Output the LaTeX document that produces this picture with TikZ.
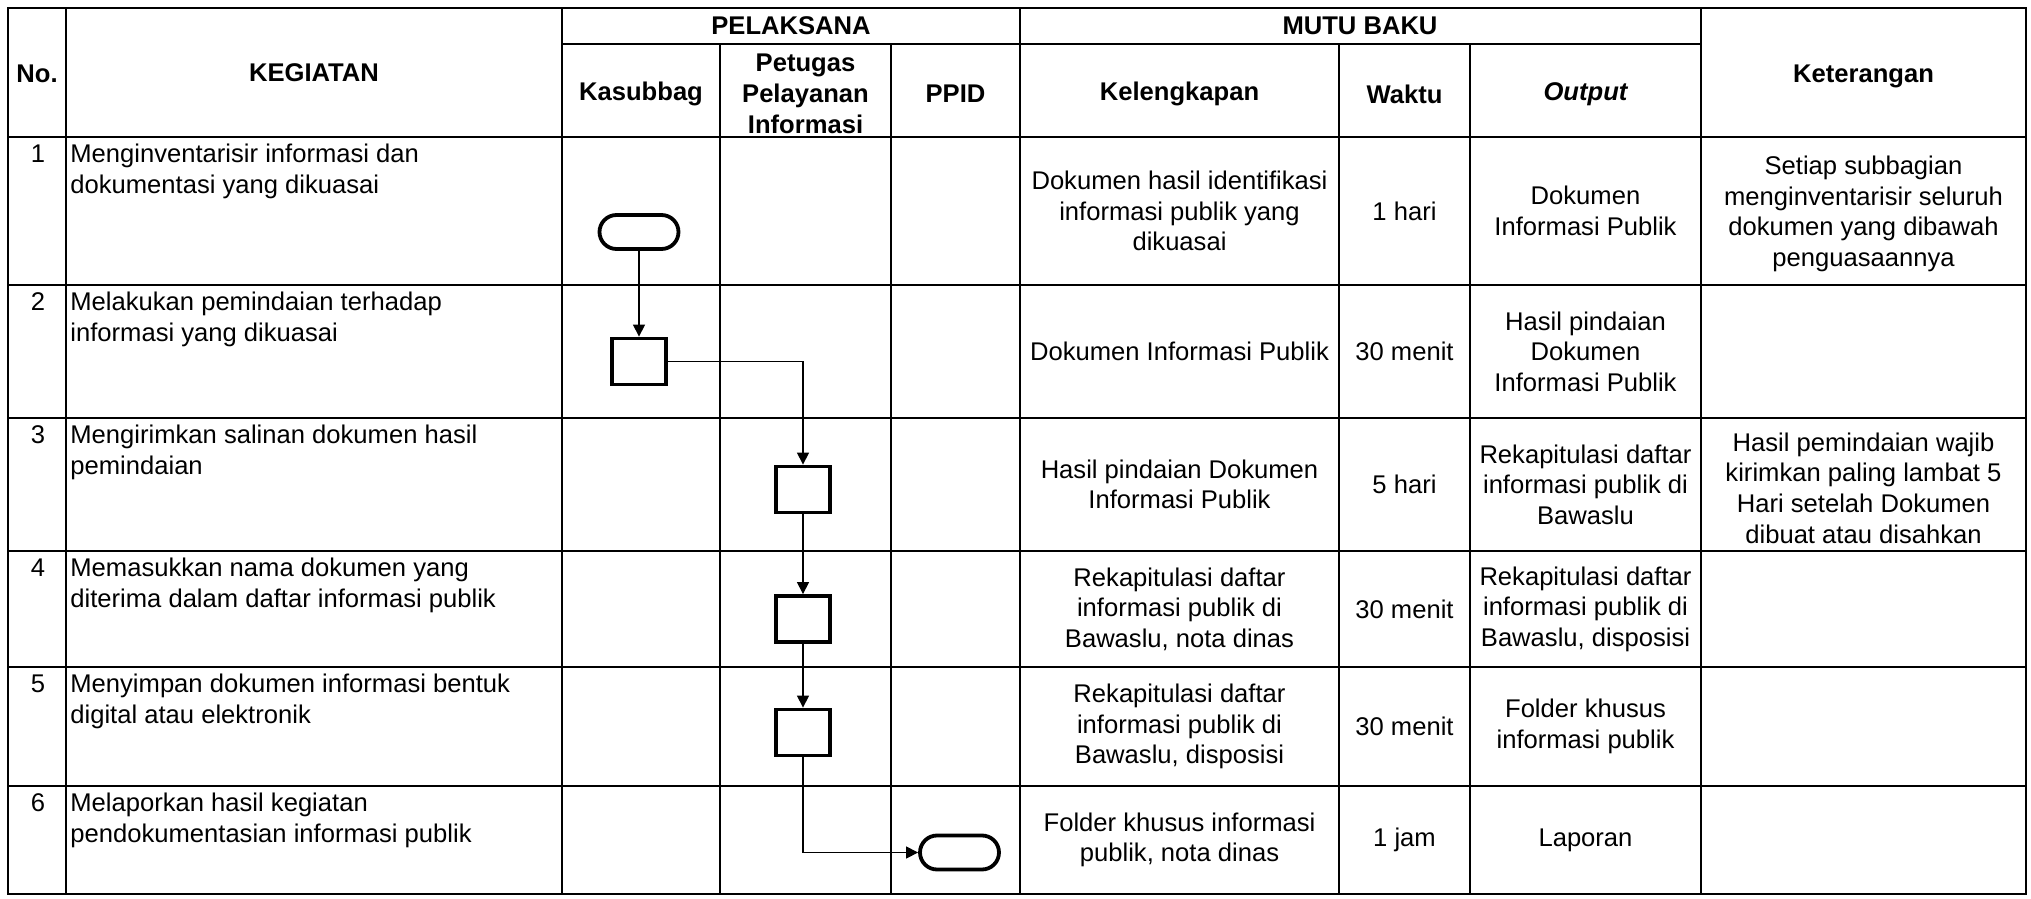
\documentclass[tikz,border=0pt]{standalone}
\usepackage{fontspec}
\setmainfont{Liberation Sans}
\usetikzlibrary{arrows.meta}

\begin{document}
\begin{tikzpicture}[x=0.5pt, y=-0.5pt,
	every node/.style={font=\fontsize{12.8}{15.3}\selectfont, inner sep=0pt},
	head/.style={font=\fontsize{12.8}{15.5}\selectfont\bfseries, align=center},
	cell/.style={align=center},
	task/.style={align=left, anchor=north west},
	num/.style={anchor=north},
	proses/.style={draw=black, line width=1.9pt, minimum width=27pt, minimum height=23pt},
	terminal/.style={draw=black, line width=1.9pt, rounded corners=8.5pt, minimum width=39.5pt, minimum height=17pt},
	alur/.style={line width=0.6pt, draw=black, -{Triangle[length=6pt, width=6pt]}}]

	% Batas
	\fill[white] (0,0) rectangle (2031,899);
	\useasboundingbox (0,0) rectangle (2031,899);

	% Tabel
	\draw[line width=1.3pt, draw=black] (8,8) rectangle (2026,894);
	\foreach \x in {66,562,1020,1701}
	{
	\draw[line width=1pt, draw=black] (\x,8) -- (\x,894);
	}
	\foreach \x in {720,891,1339,1470}
	{
	\draw[line width=1pt, draw=black] (\x,44) -- (\x,894);
	}
	\draw[line width=1pt, draw=black] (562,44) -- (1701,44);
	\foreach \y in {137,285,418,551,667,786}
	{
	\draw[line width=1.2pt, draw=black] (8,\y) -- (2026,\y);
	}

	% Judul kolom
	\node[head] (hno) at (37,74) {No.};
	\node[head] (hkeg) at (314,73) {KEGIATAN};
	\node[head] (hpel) at (791,26) {PELAKSANA};
	\node[head] (hkas) at (641,94) {Kasubbag};
	\node[head] (hpet) at (805.5,94) {Petugas\\Pelayanan\\Informasi};
	\node[head] (hppid) at (955.5,94) {PPID};
	\node[head] (hmutu) at (1360,26) {MUTU BAKU};
	\node[head] (hkel) at (1179.5,94) {Kelengkapan};
	\node[head] (hwak) at (1404.5,94) {Waktu};
	\node[head] (hout) at (1585.5,94) {\itshape Output};
	\node[head] (hket) at (1863.5,76) {Keterangan};

	% Isi baris
	\foreach \n/\yt/\ym/\keg/\kel/\wak/\out in {
	1/137/211/{Menginventarisir informasi dan\\dokumentasi yang dikuasai}/{Dokumen hasil identifikasi\\informasi publik yang\\dikuasai}/{1 hari}/{Dokumen\\Informasi Publik},
	2/285/351.5/{Melakukan pemindaian terhadap\\informasi yang dikuasai}/{Dokumen Informasi Publik}/{30 menit}/{Hasil pindaian\\Dokumen\\Informasi Publik},
	3/418/484.5/{Mengirimkan salinan dokumen hasil\\pemindaian}/{Hasil pindaian Dokumen\\Informasi Publik}/{5 hari}/{Rekapitulasi daftar\\informasi publik di\\Bawaslu},
	4/551/609/{Memasukkan nama dokumen yang\\diterima dalam daftar informasi publik}/{Rekapitulasi daftar\\informasi publik di\\Bawaslu, nota dinas}/{30 menit}/{Rekapitulasi daftar\\informasi publik di\\Bawaslu, disposisi},
	5/667/726.5/{Menyimpan dokumen informasi bentuk\\digital atau elektronik}/{Rekapitulasi daftar\\informasi publik di\\Bawaslu, disposisi}/{30 menit}/{Folder khusus\\informasi publik},
	6/786/840/{Melaporkan hasil kegiatan\\pendokumentasian informasi publik}/{Folder khusus informasi\\publik, nota dinas}/{1 jam}/{Laporan}}
	{
	\node[num] (no\n) at (38,\yt+7) {\n};
	\node[task] (keg\n) at (70,\yt+7) {\keg};
	\node[cell] (kel\n) at (1179.5,\ym) {\kel};
	\node[cell] (wak\n) at (1404.5,\ym) {\wak};
	\node[cell] (out\n) at (1585.5,\ym) {\out};
	}
	\node[cell] (ket1) at (1863.5,214) {Setiap subbagian\\menginventarisir seluruh\\dokumen yang dibawah\\penguasaannya};
	\node[cell] (ket3) at (1863.5,488) {Hasil pemindaian wajib\\kirimkan paling lambat 5\\Hari setelah Dokumen\\dibuat atau disahkan};

	% Alur
	\node[terminal] (mulai) at (639,232) {};
	\node[proses] (pindai) at (639,361.5) {};
	\node[proses] (kirim) at (803,489.5) {};
	\node[proses] (catat) at (803,619) {};
	\node[proses] (simpan) at (803,732.5) {};
	\node[terminal] (lapor) at (959.5,852.5) {};

	\draw[alur] (mulai) -- (pindai);
	\draw[alur] (pindai.east) -| (kirim.north);
	\draw[alur] (kirim) -- (catat);
	\draw[alur] (catat) -- (simpan);
	\draw[alur] (simpan.south) |- (lapor.west);

\end{tikzpicture}
\end{document}
